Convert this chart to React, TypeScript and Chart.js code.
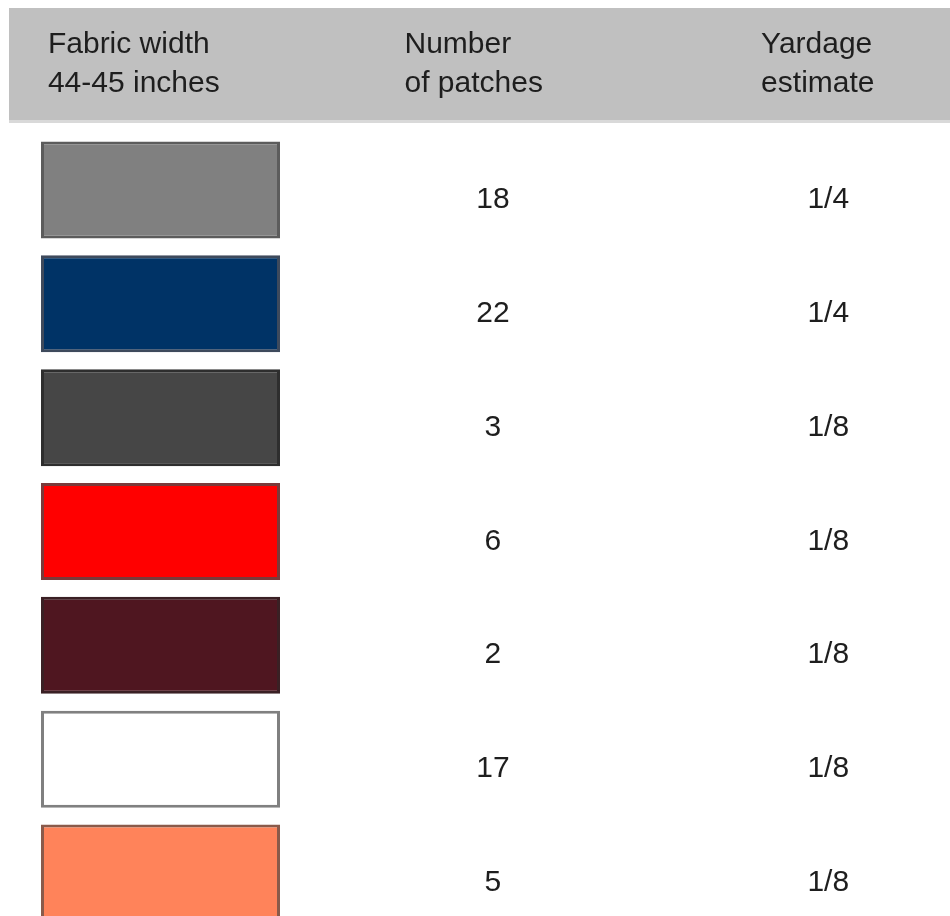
import React, { useEffect, useRef } from "react";
import { Chart, registerables } from "chart.js";

Chart.register(...registerables);

// ---- data ----
const fabricRows = ["Gray", "Navy", "Charcoal", "Red", "Maroon", "White", "Coral"];
const swatchColors = ["#808080", "#003366", "#464646", "#ff0000", "#4f1620", "#ffffff", "#ff835a"];
const swatchBorders = ["#5c5c5c", "#3e4a5c", "#2e2e2e", "#7a3a3a", "#3a2024", "#808080", "#8a5a4a"];
const patchCounts = [18, 22, 3, 6, 2, 17, 5];
const yardageEstimates = ["1/4", "1/4", "1/8", "1/8", "1/8", "1/8", "1/8"];
const headerCol1 = ["Fabric width", "44-45 inches"];
const headerCol2 = ["Number", "of patches"];
const headerCol3 = ["Yardage", "estimate"];

// column positions in x-scale units (swatch spans 0..1)
const COL = { header1: 0.029, header2: 1.521, header3: 3.013, numCenter: 1.891, yardCenter: 3.294 };

const FONT = '30px "Liberation Sans", Arial, sans-serif';

const tablePlugin = {
  id: "tablePlugin",
  beforeDraw(chart: any) {
    const { ctx, width } = chart;
    const xs = chart.scales.x;
    ctx.save();
    ctx.fillStyle = "#ffffff";
    ctx.fillRect(0, 0, width, chart.height);
    // header band
    ctx.fillStyle = "#c0c0c0";
    ctx.fillRect(9, 8, width - 9, 112);
    ctx.fillStyle = "#d9d9d9";
    ctx.fillRect(9, 120, width - 9, 3);
    ctx.fillStyle = "#1e1e1e";
    ctx.font = FONT;
    ctx.textAlign = "left";
    ctx.textBaseline = "alphabetic";
    const cols = [
      [headerCol1, COL.header1],
      [headerCol2, COL.header2],
      [headerCol3, COL.header3],
    ] as const;
    cols.forEach(([lines, cx]) => {
      const px = xs.getPixelForValue(cx as number);
      (lines as string[]).forEach((t, i) => ctx.fillText(t, px, 53 + i * 39));
    });
    ctx.restore();
  },
  afterDatasetsDraw(chart: any) {
    const { ctx } = chart;
    const xs = chart.scales.x;
    const ys = chart.scales.y;
    ctx.save();
    ctx.fillStyle = "#1e1e1e";
    ctx.font = FONT;
    ctx.textAlign = "center";
    ctx.textBaseline = "alphabetic";
    fabricRows.forEach((_, i) => {
      const py = ys.getPixelForValue(i) + 18;
      ctx.fillText(String(patchCounts[i]), xs.getPixelForValue(COL.numCenter), py);
      ctx.fillText(yardageEstimates[i], xs.getPixelForValue(COL.yardCenter), py);
    });
    ctx.restore();
  },
};

export default function App() {
  const ref = useRef<HTMLCanvasElement>(null);
  useEffect(() => {
    if (!ref.current) return;
    const chart = new Chart(ref.current, {
      type: "bar",
      data: {
        labels: fabricRows,
        datasets: [
          {
            data: fabricRows.map(() => [0, 1]) as any,
            backgroundColor: swatchColors,
            borderColor: swatchBorders,
            borderWidth: 3,
            borderSkipped: false,
            barPercentage: 0.852,
            categoryPercentage: 1,
          },
        ],
      },
      options: {
        indexAxis: "y",
        animation: false,
        responsive: false,
        devicePixelRatio: 1,
        layout: { padding: { top: 133, left: 41, right: 670, bottom: 0 } },
        plugins: { legend: { display: false }, tooltip: { enabled: false }, title: { display: false } },
        scales: {
          x: { type: "linear", min: 0, max: 1, display: false },
          y: { type: "category", display: false, offset: true },
        },
      },
      plugins: [tablePlugin],
    });
    return () => chart.destroy();
  }, []);
  return (
    <div style={{ position: "fixed", left: 0, top: 0, width: 950, height: 916, overflow: "hidden", background: "#fff" }}>
      <canvas ref={ref} width={950} height={930} style={{ display: "block" }} />
    </div>
  );
}
